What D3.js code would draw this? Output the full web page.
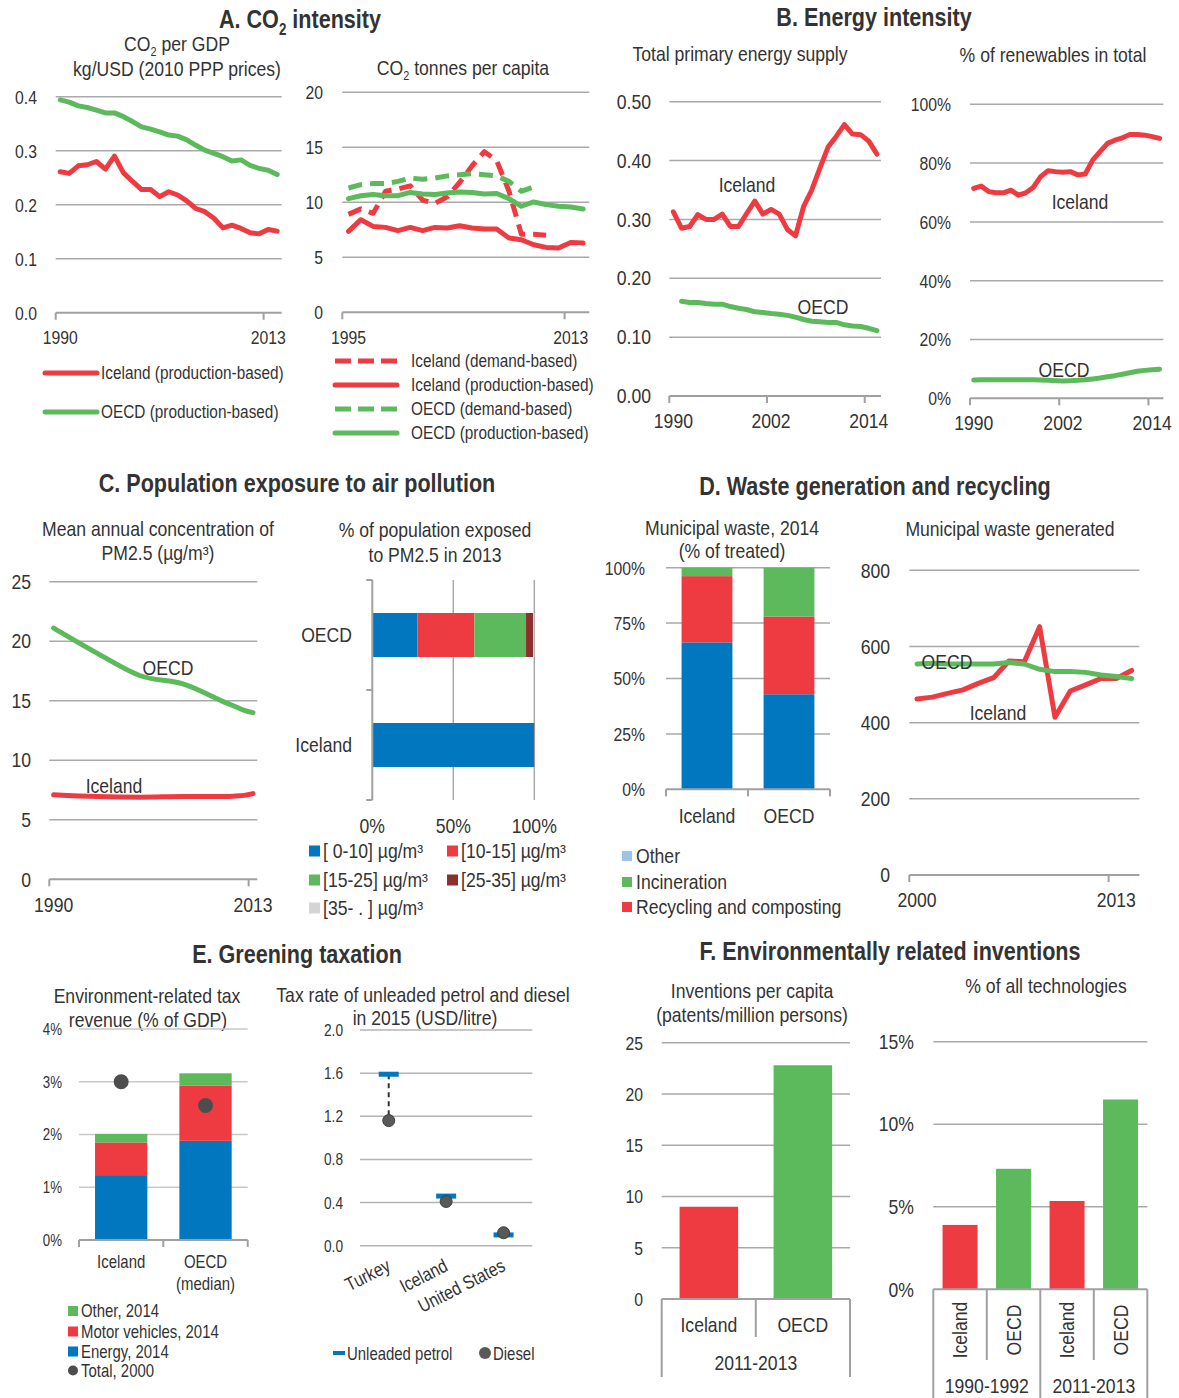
<!DOCTYPE html>
<html>
<head>
<meta charset="utf-8">
<script src="https://cdn.jsdelivr.net/npm/d3@7"></script>
<style>
  body { margin: 0; background: #fff; }
</style>
</head>
<body>
<div id="chart"></div>
<script>

// ================= DATA =================

// A. CO2 intensity
var a1Years = d3.range(1990, 2015);
var a1Iceland = [0.261,0.258,0.272,0.274,0.280,0.266,0.290,0.259,0.243,0.228,0.228,0.215,0.224,0.218,0.207,0.193,0.187,0.175,0.157,0.162,0.156,0.148,0.146,0.154,0.151];
var a1Oecd = [0.394,0.390,0.383,0.380,0.375,0.370,0.370,0.363,0.354,0.344,0.340,0.335,0.329,0.327,0.320,0.310,0.301,0.295,0.289,0.281,0.283,0.273,0.267,0.264,0.256];

var a2Years = d3.range(1995, 2015);
var a2IcelandProd = [7.36,8.42,7.81,7.72,7.42,7.72,7.42,7.72,7.66,7.87,7.66,7.57,7.57,6.75,6.60,6.14,5.90,5.84,6.35,6.29];
var a2OecdProd = [10.33,10.6,10.7,10.6,10.6,10.9,10.76,10.7,10.85,10.94,10.9,10.76,10.8,10.33,9.64,10.03,9.79,9.64,9.57,9.39];
var a2IcelandDem = [8.9,9.4,9.0,11.0,11.2,11.5,10.2,9.9,10.5,11.8,13.3,14.6,13.8,11.0,7.1,7.1,7.0];   // 1995-2011
var a2OecdDem = [11.3,11.6,11.7,11.7,11.9,12.2,12.1,12.2,12.4,12.5,12.6,12.5,12.4,11.9,11.0,11.4];     // 1995-2010

// B. Energy intensity
var bYears = d3.range(1990, 2016);
var b1Iceland = [0.313,0.285,0.288,0.308,0.300,0.300,0.309,0.288,0.288,0.310,0.331,0.309,0.317,0.309,0.283,0.272,0.322,0.350,0.387,0.423,0.441,0.461,0.445,0.444,0.433,0.411];
var b1Oecd = [null,0.161,0.159,0.159,0.157,0.156,0.156,0.152,0.149,0.147,0.143,0.142,0.140,0.139,0.137,0.134,0.130,0.127,0.126,0.125,0.125,0.121,0.119,0.118,0.115,0.111];
var b2Iceland = [71.4,72.2,70.3,69.9,69.9,70.8,69.1,69.9,71.7,75.4,77.4,77.1,76.9,77.1,76.0,76.3,81.0,83.9,86.7,87.8,88.6,89.7,89.7,89.5,89.0,88.4];
var b2Oecd = [6.2,6.3,6.3,6.3,6.3,6.3,6.3,6.3,6.3,6.2,6.1,6.0,5.9,6.0,6.1,6.3,6.6,6.9,7.3,7.7,8.2,8.7,9.2,9.5,9.7,9.9];

// C. Air pollution
var c1Years = d3.range(1990, 2014);
var c1DataYears = [1990,1995,2000,2005,2010,2011,2012,2013];
var c1Oecd = [21.1,19.0,17.1,16.4,14.8,14.5,14.2,14.0];
var c1Iceland = [7.1,6.95,6.9,6.95,6.95,7.0,7.05,7.2];

var c2Countries = ["OECD","Iceland"];
var c2Bins = ["[ 0-10] µg/m³","[10-15] µg/m³","[15-25] µg/m³","[25-35] µg/m³","[35- . ] µg/m³"];
var c2Oecd = [27.8,35.2,31.9,4.3,0.8];
var c2Iceland = [99.8,0.2,0,0,0];

// D. Waste
var d1Countries = ["Iceland","OECD"];
var d1Kinds = ["Landfill","Recycling and composting","Incineration","Other"];
var d1Iceland = [66.3,29.9,3.8,0];
var d1Oecd = [42.9,35.1,22.0,0];

var d2Years = d3.range(2000, 2015);
var d2Iceland = [462,467,477,486,503,518,562,560,652,414,483,499,516,516,537];
var d2Oecd = [554,556,554,554,554,554,558,554,540,534,534,532,525,521,516];

// E. Greening taxation
var e1Countries = ["Iceland","OECD"];
var e1Energy = [1.23,1.88];
var e1Motor = [0.62,1.05];
var e1Other = [0.16,0.23];
var e1Total2000 = [3.0,2.55];

var e2Countries = ["Turkey","Iceland","United States"];
var e2Petrol = [1.59,0.46,0.10];
var e2Diesel = [1.16,0.41,0.12];

// F. Inventions
var f1Countries = ["Iceland","OECD"];
var f1Values = [9.0,22.8];

var f2Periods = ["1990-1992","2011-2013"];
var f2Countries = ["Iceland","OECD"];
var f2Values = [[3.9,7.3],[5.35,11.5]];

// ================= STYLE =================
var FONT = "'Liberation Sans',Arial,Helvetica,sans-serif";
var TXT = "#333333", GRID = "#a9a9a9", AXIS = "#a0a0a0";
var RED = "#ee3b42", GREEN = "#5cba5c", BLUE = "#0077be", DKRED = "#8e2f2f",
    LGREY = "#d4d4d4", LBLUE = "#9dc3e6", DOT = "#4d4d4d";

var svg = d3.select("#chart").append("svg")
  .attr("width", 1179).attr("height", 1398)
  .style("font-family", FONT);

function txt(x, y, s, size, anchor, weight) {
  return svg.append("text")
    .attr("x", x).attr("y", y)
    .attr("font-size", size || 20)
    .attr("text-anchor", anchor || "middle")
    .attr("font-weight", weight || "normal")
    .attr("fill", TXT)
    .text(s);
}

// text with CO2 subscript
function co2(x, y, before, after, size, weight) {
  var t = svg.append("text").attr("x", x).attr("y", y)
    .attr("font-size", size).attr("text-anchor", "middle")
    .attr("font-weight", weight || "normal").attr("fill", TXT);
  t.append("tspan").text(before + "CO");
  t.append("tspan").attr("font-size", size * 0.62).attr("dy", size * 0.25).text("2");
  t.append("tspan").attr("dy", -size * 0.25).text(after);
}

function hline(x1, x2, y, col, w) {
  svg.append("line").attr("x1", x1).attr("x2", x2).attr("y1", y).attr("y2", y)
    .attr("stroke", col || GRID).attr("stroke-width", w || 1.5);
}
function vline(x, y1, y2, col, w) {
  svg.append("line").attr("x1", x).attr("x2", x).attr("y1", y1).attr("y2", y2)
    .attr("stroke", col || AXIS).attr("stroke-width", w || 2);
}

function yLabels(y, ticks, fmt, lx, fs) {
  ticks.forEach(function(t) {
    svg.append("text").attr("x", lx).attr("y", y(t)).attr("dy", "0.36em")
      .attr("text-anchor", "end").attr("font-size", fs).attr("fill", TXT).text(fmt(t));
  });
}

// ---------- line panel ----------
function linePanel(o) {
  var x = d3.scaleBand().domain(o.years).range([o.left, o.right]);
  var y = d3.scaleLinear().domain(o.ydom).range([o.bottom, o.top]);
  var bw = x.bandwidth();
  o.yticks.forEach(function(t) { if (t !== o.ydom[0]) hline(o.left, o.right, y(t)); });
  yLabels(y, o.yticks, o.fmt, o.labelX, o.fs);
  hline(o.left, o.right, y(o.ydom[0]), AXIS, 2);
  o.tickYears.forEach(function(yr) { vline(x(yr), y(o.ydom[0]), y(o.ydom[0]) + 7); });
  o.tickYears.forEach(function(yr) {
    txt(x(yr) + bw / 2, o.xLabelY, String(yr), o.xfs || o.fs);
  });
  o.series.forEach(function(s) {
    var pts = s.values.map(function(v, i) {
      return { yr: s.years ? s.years[i] : o.years[i], v: v };
    });
    var line = d3.line()
      .defined(function(d) { return d.v != null; })
      .x(function(d) { return x(d.yr) + bw / 2; })
      .y(function(d) { return y(d.v); })
      .curve(o.curve || d3.curveLinear);
    svg.append("path").attr("d", line(pts))
      .attr("fill", "none").attr("stroke", s.color).attr("stroke-width", 5)
      .attr("stroke-linejoin", "round")
      .attr("stroke-linecap", s.dash ? "butt" : "round")
      .attr("stroke-dasharray", s.dash || null);
  });
  return { x: x, y: y };
}

// ================= A =================
co2(300, 28, "A. ", " intensity", 26, "bold");
co2(177, 51, "", " per GDP", 20);
txt(177, 76, "kg/USD (2010 PPP prices)", 20);

linePanel({
  years: a1Years, left: 55.7, right: 281.7, bottom: 312.7, top: 96.7,
  ydom: [0, 0.4], yticks: [0, 0.1, 0.2, 0.3, 0.4], fmt: d3.format(".1f"),
  labelX: 37, fs: 19, tickYears: [1990, 2013], xLabelY: 344,
  series: [{ values: a1Iceland, color: RED }, { values: a1Oecd, color: GREEN }]
});

// legend A1
[["Iceland (production-based)", RED, 373], ["OECD (production-based)", GREEN, 412]].forEach(function(l) {
  svg.append("line").attr("x1", 45).attr("x2", 97).attr("y1", l[2]).attr("y2", l[2])
    .attr("stroke", l[1]).attr("stroke-width", 5).attr("stroke-linecap", "round");
  txt(101, l[2] + 6, l[0], 18.5, "start");
});

co2(463, 75, "", " tonnes per capita", 20);
linePanel({
  years: a2Years, left: 342.3, right: 589.3, bottom: 312.3, top: 92.3,
  ydom: [0, 20], yticks: [0, 5, 10, 15, 20], fmt: d3.format("d"),
  labelX: 323, fs: 19, tickYears: [1995, 2013], xLabelY: 344,
  series: [
    { values: a2IcelandDem, color: RED, dash: "14,8" },
    { values: a2IcelandProd, color: RED },
    { values: a2OecdDem, color: GREEN, dash: "14,8" },
    { values: a2OecdProd, color: GREEN }
  ]
});

[["Iceland (demand-based)", RED, 361, true], ["Iceland (production-based)", RED, 385, false],
 ["OECD (demand-based)", GREEN, 409, true], ["OECD (production-based)", GREEN, 433, false]].forEach(function(l) {
  svg.append("line").attr("x1", 335).attr("x2", 397).attr("y1", l[2]).attr("y2", l[2])
    .attr("stroke", l[1]).attr("stroke-width", 5)
    .attr("stroke-dasharray", l[3] ? "16,7" : null)
    .attr("stroke-linecap", l[3] ? "butt" : "round");
  txt(411, l[2] + 6, l[0], 18.5, "start");
});

// ================= B =================
txt(874, 26, "B. Energy intensity", 26, "middle", "bold");
txt(740, 61, "Total primary energy supply", 20);
linePanel({
  years: bYears, left: 669.3, right: 881, bottom: 396, top: 101.7,
  ydom: [0, 0.5], yticks: [0, 0.1, 0.2, 0.3, 0.4, 0.5], fmt: d3.format(".2f"),
  labelX: 651, fs: 20, tickYears: [1990, 2002, 2014], xLabelY: 428,
  series: [{ values: b1Iceland, color: RED }, { values: b1Oecd, color: GREEN }]
});
txt(747, 192, "Iceland", 20);
txt(823, 314, "OECD", 20);

txt(1053, 62, "% of renewables in total", 20);
linePanel({
  years: bYears, left: 970, right: 1163.3, bottom: 398.3, top: 104.3,
  ydom: [0, 100], yticks: [0, 20, 40, 60, 80, 100], fmt: function(d) { return d + "%"; },
  labelX: 951, fs: 19, xfs: 20, tickYears: [1990, 2002, 2014], xLabelY: 430,
  series: [{ values: b2Iceland, color: RED }, { values: b2Oecd, color: GREEN }]
});
txt(1080, 209, "Iceland", 20);
txt(1064, 377, "OECD", 20);

// ================= C =================
txt(297, 492, "C. Population exposure to air pollution", 26, "middle", "bold");
txt(158, 536, "Mean annual concentration of", 20);
txt(158, 560, "PM2.5 (µg/m³)", 20);
linePanel({
  years: c1Years, left: 49.3, right: 257.3, bottom: 879.3, top: 581.7,
  ydom: [0, 25], yticks: [0, 5, 10, 15, 20, 25], fmt: d3.format("d"),
  labelX: 31, fs: 20, tickYears: [1990, 2013], xLabelY: 912, curve: d3.curveMonotoneX,
  series: [
    { years: c1DataYears, values: c1Iceland, color: RED },
    { years: c1DataYears, values: c1Oecd, color: GREEN }
  ]
});
txt(168, 675, "OECD", 20);
txt(114, 793, "Iceland", 20);

// C2 stacked horizontal bars
(function() {
  txt(435, 537, "% of population exposed", 20);
  txt(435, 562, "to PM2.5  in 2013", 20);
  var y = d3.scaleBand().domain(c2Countries).range([580, 800]).paddingInner(0.6).paddingOuter(0.3);
  var x = d3.scaleLinear().domain([0, 100]).range([372.3, 534.3]);
  var cols = [BLUE, RED, GREEN, DKRED, LGREY];
  [50, 100].forEach(function(t) { vline(x(t), 580, 800, GRID, 1.5); });
  var rows = { "OECD": c2Oecd, "Iceland": c2Iceland };
  c2Countries.forEach(function(c) {
    var acc = 0;
    rows[c].forEach(function(v, i) {
      svg.append("rect").attr("x", x(acc)).attr("y", y(c))
        .attr("width", x(acc + v) - x(acc)).attr("height", y.bandwidth()).attr("fill", cols[i]);
      acc += v;
    });
    txt(352, y(c) + y.bandwidth() / 2, c, 20, "end").attr("dy", "0.36em");
  });
  vline(x(0), 580, 800, AXIS, 2);
  [580, 690, 800].forEach(function(t) { hline(x(0) - 6, x(0), t, AXIS, 2); });
  [0, 50, 100].forEach(function(t) { txt(x(t), 833, t + "%", 20); });
  // legend
  var pos = [[309, 851], [447, 851], [309, 880], [447, 880], [309, 908]];
  c2Bins.forEach(function(b, i) {
    svg.append("rect").attr("x", pos[i][0]).attr("y", pos[i][1] - 5.5).attr("width", 11).attr("height", 11).attr("fill", cols[i]);
    txt(pos[i][0] + 14, pos[i][1] + 6.5, b, 20, "start");
  });
})();

// ================= D =================
txt(875, 495, "D. Waste generation and recycling", 26, "middle", "bold");
(function() {
  txt(732, 535, "Municipal waste, 2014", 20);
  txt(732, 558, "(% of treated)", 20);
  var x = d3.scaleBand().domain(d1Countries).range([666, 830]).paddingInner(0.38).paddingOuter(0.19);
  var y = d3.scaleLinear().domain([0, 100]).range([789.3, 567.7]);
  var ticks = [0, 25, 50, 75, 100];
  ticks.forEach(function(t) { if (t) hline(666, 830, y(t)); });
  yLabels(y, ticks, function(d) { return d + "%"; }, 645, 19);
  var cols = [BLUE, RED, GREEN, LBLUE];
  var rows = { "Iceland": d1Iceland, "OECD": d1Oecd };
  d1Countries.forEach(function(c) {
    var acc = 0;
    rows[c].forEach(function(v, i) {
      svg.append("rect").attr("x", x(c)).attr("y", y(acc + v))
        .attr("width", x.bandwidth()).attr("height", y(acc) - y(acc + v)).attr("fill", cols[i]);
      acc += v;
    });
    txt(x(c) + x.bandwidth() / 2, 823, c, 20);
  });
  hline(666, 830, y(0), AXIS, 2);
  [666, 748, 830].forEach(function(t) { vline(t, y(0), y(0) + 7); });
  [["Other", LBLUE, 856], ["Incineration", GREEN, 882], ["Recycling and composting", RED, 907]].forEach(function(l) {
    svg.append("rect").attr("x", 622).attr("y", l[2] - 5).attr("width", 10).attr("height", 10).attr("fill", l[1]);
    txt(636, l[2] + 6.5, l[0], 20, "start");
  });
})();

txt(1010, 536, "Municipal waste generated", 20);
linePanel({
  years: d2Years, left: 909.3, right: 1139.3, bottom: 875, top: 570.3,
  ydom: [0, 800], yticks: [0, 200, 400, 600, 800], fmt: d3.format("d"),
  labelX: 890, fs: 20, tickYears: [2000, 2013], xLabelY: 907,
  series: [{ values: d2Iceland, color: RED }, { values: d2Oecd, color: GREEN }]
});
txt(947, 669, "OECD", 20);
txt(998, 720, "Iceland", 20);

// ================= E =================
txt(297, 963, "E. Greening taxation", 26, "middle", "bold");
(function() {
  txt(147, 1003, "Environment-related tax", 20);
  txt(148, 1027, "revenue (% of GDP)", 20);
  var x = d3.scaleBand().domain(e1Countries).range([79, 247.7]).paddingInner(0.38).paddingOuter(0.19);
  var y = d3.scaleLinear().domain([0, 4]).range([1240, 1029]);
  var ticks = [0, 1, 2, 3, 4];
  ticks.forEach(function(t) { if (t) hline(79, 247.7, y(t), "#c8c8c8", 1.5); });
  yLabels(y, ticks, function(d) { return d + "%"; }, 62, 16);
  var layers = [e1Energy, e1Motor, e1Other], cols = [BLUE, RED, GREEN];
  e1Countries.forEach(function(c, ci) {
    var acc = 0;
    layers.forEach(function(arr, i) {
      var v = arr[ci];
      svg.append("rect").attr("x", x(c)).attr("y", y(acc + v))
        .attr("width", x.bandwidth()).attr("height", y(acc) - y(acc + v)).attr("fill", cols[i]);
      acc += v;
    });
    svg.append("circle").attr("cx", x(c) + x.bandwidth() / 2).attr("cy", y(e1Total2000[ci]))
      .attr("r", 7.5).attr("fill", DOT);
  });
  hline(79, 247.7, y(0), AXIS, 2);
  [79, 163.3, 247.7].forEach(function(t) { vline(t, y(0), y(0) + 7); });
  txt(x("Iceland") + x.bandwidth() / 2, 1268, "Iceland", 18);
  txt(x("OECD") + x.bandwidth() / 2, 1268, "OECD", 18);
  txt(x("OECD") + x.bandwidth() / 2, 1290, "(median)", 18);
  [["Other, 2014", GREEN, 1311], ["Motor vehicles, 2014", RED, 1331.5], ["Energy, 2014", BLUE, 1351.5]].forEach(function(l) {
    svg.append("rect").attr("x", 68).attr("y", l[2] - 5).attr("width", 10).attr("height", 10).attr("fill", l[1]);
    txt(81, l[2] + 6, l[0], 18, "start");
  });
  svg.append("circle").attr("cx", 73).attr("cy", 1370.5).attr("r", 5).attr("fill", DOT);
  txt(81, 1376.5, "Total, 2000", 18, "start");
})();

(function() {
  txt(423, 1002, "Tax rate of unleaded petrol and diesel", 20);
  txt(425, 1025, "in 2015 (USD/litre)", 20);
  var x = d3.scaleBand().domain(e2Countries).range([360, 532.3]);
  var y = d3.scaleLinear().domain([0, 2]).range([1245.7, 1030]);
  var ticks = [0, 0.4, 0.8, 1.2, 1.6, 2.0];
  ticks.forEach(function(t) { hline(360, 532.3, y(t), "#b4b4b4", 1.5); });
  yLabels(y, ticks, d3.format(".1f"), 343, 16.5);
  e2Countries.forEach(function(c, i) {
    var cx = x(c) + x.bandwidth() / 2;
    svg.append("line").attr("x1", cx).attr("x2", cx).attr("y1", y(e2Petrol[i])).attr("y2", y(e2Diesel[i]))
      .attr("stroke", "#333").attr("stroke-width", 2).attr("stroke-dasharray", "5,4");
    svg.append("rect").attr("x", cx - 10).attr("y", y(e2Petrol[i]) - 2.5).attr("width", 20).attr("height", 5).attr("fill", BLUE);
    svg.append("circle").attr("cx", cx).attr("cy", y(e2Diesel[i])).attr("r", 6)
      .attr("fill", "#595959").attr("stroke", "#3f3f3f").attr("stroke-width", 1);
    svg.append("text").attr("transform", "translate(" + (cx + 3) + ",1270) rotate(-27)")
      .attr("text-anchor", "end").attr("font-size", 19).attr("fill", TXT).text(c);
  });
  svg.append("rect").attr("x", 333).attr("y", 1351).attr("width", 12).attr("height", 4).attr("fill", BLUE);
  txt(347, 1360, "Unleaded petrol", 18, "start");
  svg.append("circle").attr("cx", 485).attr("cy", 1353).attr("r", 6).attr("fill", "#595959");
  txt(493, 1360, "Diesel", 18, "start");
})();

// ================= F =================
txt(890, 960, "F. Environmentally related inventions", 26, "middle", "bold");
(function() {
  txt(752, 998, "Inventions per capita", 20);
  txt(752, 1022, "(patents/million persons)", 20);
  var x = d3.scaleBand().domain(f1Countries).range([661.7, 850]).paddingInner(0.377).paddingOuter(0.19);
  var y = d3.scaleLinear().domain([0, 25]).range([1299, 1042.7]);
  var ticks = [0, 5, 10, 15, 20, 25];
  ticks.forEach(function(t) { if (t) hline(661.7, 850, y(t)); });
  yLabels(y, ticks, d3.format("d"), 643, 19);
  f1Countries.forEach(function(c, i) {
    svg.append("rect").attr("x", x(c)).attr("y", y(f1Values[i]))
      .attr("width", x.bandwidth()).attr("height", y(0) - y(f1Values[i])).attr("fill", i ? GREEN : RED);
    txt(x(c) + x.bandwidth() / 2, 1332, c, 20);
  });
  hline(661.7, 850, y(0), AXIS, 2);
  vline(661.7, y(0), 1377); vline(850, y(0), 1377); vline(755.8, y(0), 1337);
  txt(755.8, 1370, "2011-2013", 20);
})();

(function() {
  txt(1046, 993, "% of all technologies", 20);
  var cats = [];
  f2Periods.forEach(function(p) { f2Countries.forEach(function(c) { cats.push(p + "|" + c); }); });
  var x = d3.scaleBand().domain(cats).range([933.3, 1147.3]).paddingInner(0.346).paddingOuter(0.173);
  var y = d3.scaleLinear().domain([0, 15]).range([1289.3, 1041.7]);
  var ticks = [0, 5, 10, 15];
  ticks.forEach(function(t) { if (t) hline(933.3, 1147.3, y(t)); });
  yLabels(y, ticks, function(d) { return d + "%"; }, 914, 20);
  var step = x.step();
  f2Periods.forEach(function(p, pi) {
    f2Countries.forEach(function(c, ci) {
      var k = p + "|" + c, v = f2Values[pi][ci];
      svg.append("rect").attr("x", x(k)).attr("y", y(v))
        .attr("width", x.bandwidth()).attr("height", y(0) - y(v)).attr("fill", ci ? GREEN : RED);
      var cx = x(k) + x.bandwidth() / 2;
      svg.append("text").attr("transform", "translate(" + (cx + 7) + ",1330) rotate(-90)")
        .attr("text-anchor", "middle").attr("font-size", 20).attr("fill", TXT).text(c);
    });
    var gx0 = 933.3 + pi * 2 * step;
    txt(gx0 + step, 1393, p, 20);
  });
  hline(933.3, 1147.3, y(0), AXIS, 2);
  [0, 2, 4].forEach(function(i) { vline(933.3 + i * step, y(0), 1398); });
  [1, 3].forEach(function(i) { vline(933.3 + i * step, y(0), 1360); });
})();

// squeeze all text horizontally (narrow typeface look)
svg.selectAll("text").each(function() {
  var t = d3.select(this);
  var big = +t.attr("font-size") >= 19.5 && t.attr("font-weight") !== "bold";
  var sx = big ? 0.88 : 0.83;
  var tr = t.attr("transform");
  if (tr) {
    t.attr("transform", tr + " scale(" + sx + ",1)");
  } else {
    var x = +t.attr("x"), y = +t.attr("y");
    t.attr("x", 0).attr("y", 0)
      .attr("transform", "translate(" + x + "," + y + ") scale(" + sx + ",1)");
  }
});

</script>
</body>
</html>
